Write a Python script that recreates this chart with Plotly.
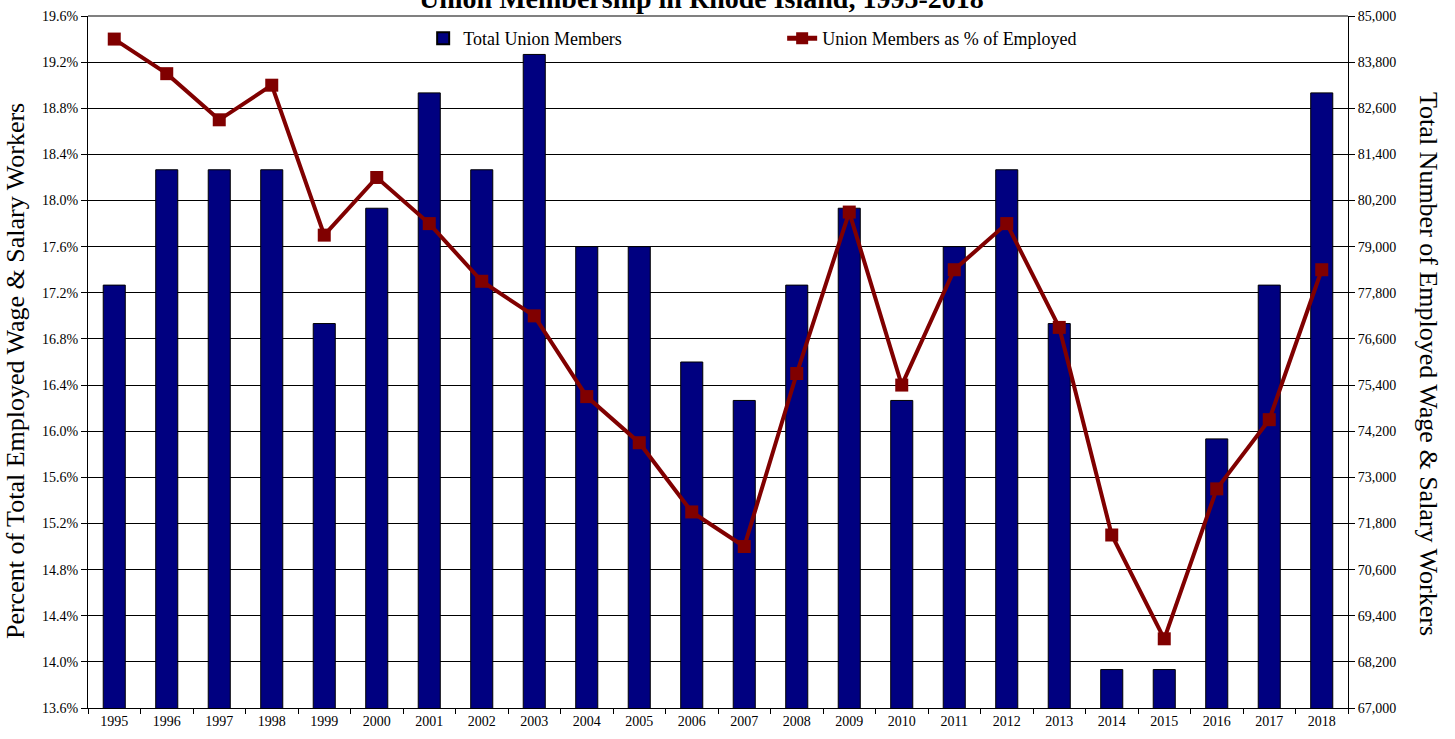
import plotly.graph_objects as go

years = [str(y) for y in range(1995, 2019)]
union_members = [78000, 81000, 81000, 81000, 77000, 80000, 83000, 81000, 84000, 79000,
                 79000, 76000, 75000, 78000, 80000, 75000, 79000, 81000, 77000, 68000,
                 68000, 74000, 78000, 83000]
pct_employed = [19.4, 19.1, 18.7, 19.0, 17.7, 18.2, 17.8, 17.3, 17.0, 16.3,
                15.9, 15.3, 15.0, 16.5, 17.9, 16.4, 17.4, 17.8, 16.9, 15.1,
                14.2, 15.5, 16.1, 17.4]

FONT = "Liberation Serif, Times New Roman, serif"

fig = go.Figure()
fig.add_trace(go.Bar(
    x=years, y=union_members, name="Total Union Members",
    marker=dict(color="#000080", line=dict(color="#000000", width=1)),
    yaxis="y",
))
fig.add_trace(go.Scatter(
    x=years, y=pct_employed, name="Union Members as % of Employed",
    mode="lines+markers",
    line=dict(color="#800000", width=4),
    marker=dict(symbol="square", size=13, color="#800000"),
    yaxis="y2",
))

fig.update_layout(
    width=1455, height=739,
    margin=dict(l=88, r=107, t=16, b=31, autoexpand=False),
    plot_bgcolor="white", paper_bgcolor="white",
    font=dict(family=FONT, size=14, color="black"),
    bargap=0.58,
    showlegend=True,
    legend=dict(orientation="h", x=0.266, y=0.994, xanchor="left", yanchor="top",
                font=dict(family=FONT, size=18), bgcolor="rgba(0,0,0,0)",
                entrywidth=314, entrywidthmode="pixels", itemsizing="constant"),
    xaxis=dict(type="category", range=[-0.5, 23.5], showgrid=False, ticks="outside",
               tickson="boundaries", ticklen=5, tickcolor="black", showline=True,
               linecolor="black", linewidth=1,
               tickfont=dict(family=FONT, size=14), automargin=False),
    yaxis=dict(side="right", range=[67000, 85000], dtick=1200, tick0=67000,
               tickformat=",", showgrid=False, ticks="outside", ticklen=6, tickcolor="black",
               showline=True, linecolor="black", linewidth=1,
               tickfont=dict(family=FONT, size=14), zeroline=False, automargin=False),
    yaxis2=dict(side="left", overlaying="y", range=[13.6, 19.6], dtick=0.4, tick0=13.6,
                tickformat=".1f", ticksuffix="%", showgrid=True, gridcolor="black", gridwidth=1,
                ticks="outside", ticklen=6, tickcolor="black",
                showline=True, linecolor="black", linewidth=1,
                tickfont=dict(family=FONT, size=14), zeroline=False, automargin=False),
    shapes=[dict(type="line", xref="paper", yref="paper", x0=0, x1=1, y0=1, y1=1,
                 line=dict(color="#808080", width=2))],
    annotations=[
        dict(text="<b>Union Membership in Rhode Island, 1995-2018</b>",
             xref="paper", yref="paper", x=0.487, y=1.0, xanchor="center", yanchor="bottom",
             showarrow=False, font=dict(family=FONT, size=28, color="black")),
        dict(text="Percent of Total Employed Wage & Salary Workers", textangle=-90,
             xref="paper", yref="paper", x=-0.0571, y=0.487, xanchor="center", yanchor="middle",
             showarrow=False, font=dict(family=FONT, size=26, color="black")),
        dict(text="Total Number of Employed Wage & Salary Workers", textangle=90,
             xref="paper", yref="paper", x=1.0643, y=0.497, xanchor="center", yanchor="middle",
             showarrow=False, font=dict(family=FONT, size=26, color="black")),
    ],
)

fig.write_html("out.html", config={"displayModeBar": False},
               post_script="document.body.style.margin='0';document.body.style.overflow='hidden';")
